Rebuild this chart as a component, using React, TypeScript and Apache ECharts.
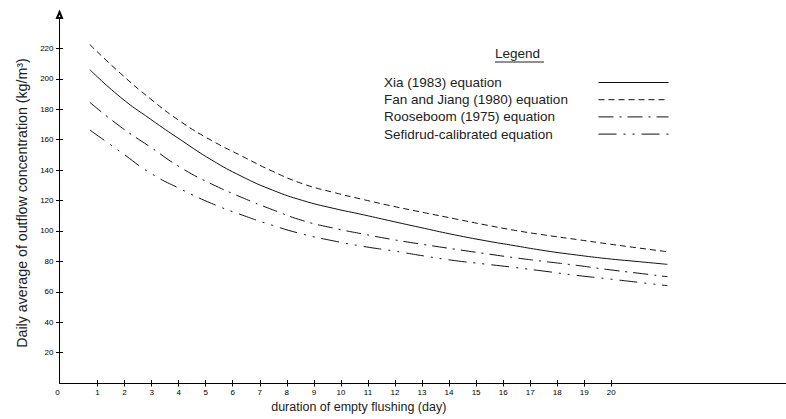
import React, { useEffect, useRef } from "react";
import * as echarts from "echarts";

const days = [1, 2, 3, 4, 5, 6, 7, 8, 9, 10, 11, 12, 13, 14, 15, 16, 17, 18, 19, 20];
const xia = [206, 188, 173.4, 159.7, 146.7, 135.8, 126.9, 120, 114.9, 110.6, 106.1, 101.7, 97.4, 93.6, 90.2, 86.9, 84.2, 81.8, 79.9, 78];
const fanJiang = [222.5, 203.7, 186.7, 171.7, 159.5, 149.2, 139.3, 131, 125.4, 120.6, 116.1, 112, 108, 104, 100.3, 97.2, 94.4, 91.6, 88.9, 86.3];
const rooseboom = [184.5, 168.6, 155, 141.5, 130.9, 122, 114, 106.8, 101.9, 97.9, 94.2, 91, 88, 85.1, 82.3, 79.8, 77.4, 74.7, 72.3, 69.9];
const sefidrud = [166.3, 152.1, 137.9, 127.4, 118.1, 110.5, 103.7, 97.9, 93.5, 89.8, 86.8, 83.5, 80.5, 78.2, 75.9, 73.4, 70.8, 68.6, 66.3, 64];

const seriesNames = [
  "Xia (1983) equation",
  "Fan and Jiang (1980) equation",
  "Rooseboom (1975) equation",
  "Sefidrud-calibrated equation",
];
const xLabelValues = [0, 1, 2, 3, 4, 5, 6, 7, 8, 9, 10, 11, 12, 13, 14, 15, 16, 17, 18, 19, 20];
const xTickValues = [1, 2, 3, 4, 5, 6, 7, 8, 9, 10, 11, 12, 13, 14, 15, 16, 17, 18, 19, 20];
const yTickValues = [20, 40, 60, 80, 100, 120, 140, 160, 180, 200, 220];

const FONT = "'Liberation Sans', Arial, sans-serif";
const INK = "#000";

export default function App() {
  const ref = useRef<HTMLDivElement>(null);
  useEffect(() => {
    if (!ref.current) return;
    const chart = echarts.init(ref.current, null, { renderer: "svg" });
    const mk = (vals: number[]) => days.map((d, i) => [d, vals[i]]);
    const dashes: any[] = ["solid", [6, 4], [15, 6, 2, 6], [18, 7, 2, 7, 2, 7]];
    const values = [xia, fanJiang, rooseboom, sefidrud];
    const shownX = {
      type: "value",
      min: -0.407,
      max: 26.46,
      position: "bottom",
      axisLine: { show: true, onZero: false, lineStyle: { color: INK, width: 1 } },
      axisTick: { show: true, customValues: xTickValues, length: 3.5, lineStyle: { color: INK } },
      axisLabel: {
        show: true,
        customValues: xLabelValues,
        fontSize: 8,
        color: INK,
        fontFamily: FONT,
        margin: 5,
        formatter: (v: number) => (v === 0 ? "{z|0}" : String(v)),
        rich: { z: { padding: [0, 26, 0, 0], fontSize: 8, color: INK, fontFamily: FONT } },
      },
      splitLine: { show: false },
      name: "duration of empty flushing (day)",
      nameLocation: "middle",
      nameGap: 12,
      nameTextStyle: { fontSize: 12.5, color: "#222", fontFamily: FONT, padding: [0, 128, 0, 0] },
    };
    const legendText = { fontSize: 13.5, color: "#222", fontFamily: FONT, lineHeight: 15 };
    const legendCommon = {
      orient: "vertical",
      top: 75,
      padding: 0,
      itemHeight: 15,
      itemGap: 2.2,
      data: seriesNames,
      selectedMode: false,
    };
    const option: any = {
      animation: false,
      backgroundColor: "#fff",
      grid: { left: 59.5, right: 0, top: 18, bottom: 36, containLabel: false },
      xAxis: [
        shownX,
        { type: "value", min: 0, max: 23.9, show: false },
        {
          type: "value",
          min: -0.407,
          max: 26.46,
          position: "bottom",
          axisLine: { show: false, onZero: false },
          axisTick: { show: true, inside: true, customValues: xTickValues, length: 3, lineStyle: { color: INK } },
          axisLabel: { show: false },
          splitLine: { show: false },
        },
      ],
      yAxis: [
        {
          type: "value",
          min: 0,
          max: 240,
          position: "left",
          axisLine: {
            show: true,
            onZero: false,
            symbol: ["none", "emptyTriangle"],
            symbolSize: [5, 6],
            symbolOffset: [0, 3],
            lineStyle: { color: INK, width: 1 },
          },
          axisTick: { show: true, customValues: yTickValues, length: 3.5, lineStyle: { color: INK } },
          axisLabel: { show: true, customValues: yTickValues, fontSize: 8, color: INK, fontFamily: FONT, margin: 6 },
          splitLine: { show: false },
          name: "Daily average of outflow concentration (kg/m³)",
          nameLocation: "middle",
          nameGap: 31,
          nameTextStyle: { fontSize: 14.2, color: "#222", fontFamily: FONT, padding: [0, 5, 0, 0] },
        },
        {
          type: "value",
          min: 0,
          max: 240,
          position: "left",
          axisLine: { show: false, onZero: false },
          axisTick: { show: true, inside: true, customValues: yTickValues, length: 3.5, lineStyle: { color: INK } },
          axisLabel: { show: false },
          splitLine: { show: false },
        },
      ],
      legend: [
        {
          ...legendCommon,
          left: 373,
          itemWidth: 0,
          itemStyle: { opacity: 0 },
          lineStyle: { opacity: 0 },
          textStyle: legendText,
        },
        {
          ...legendCommon,
          left: 598,
          itemWidth: 70,
          itemStyle: { opacity: 0 },
          lineStyle: { width: 1, color: "#111" },
          formatter: () => " ",
          textStyle: legendText,
        },
      ],
      graphic: [
        {
          type: "text",
          x: 495,
          y: 46,
          style: { text: "Legend", fontSize: 13.5, fontFamily: FONT, fill: "#222" },
        },
        {
          type: "line",
          shape: { x1: 495, y1: 62, x2: 544, y2: 62 },
          style: { stroke: "#222", lineWidth: 1 },
        },
      ],
      series: seriesNames.map((name, i) => ({
        name,
        type: "line",
        xAxisIndex: 1,
        yAxisIndex: 0,
        data: mk(values[i]),
        smooth: true,
        symbol: "none",
        color: "#111",
        lineStyle: { color: "#111", width: 1, type: dashes[i] },
      })),
    };
    chart.setOption(option);
    return () => chart.dispose();
  }, []);
  return <div ref={ref} style={{ position: "fixed", left: 0, top: 0, width: 786, height: 419 }} />;
}
